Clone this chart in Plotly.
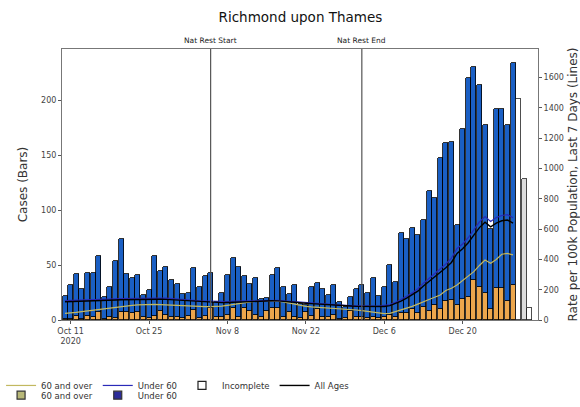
import pandas as pd
import plotly.graph_objects as go

# ---- data -------------------------------------------------------------
start_date = "2020-10-10"
n_complete = 81

total_cases = [22, 32, 42, 28, 43, 43, 58, 21, 30, 54, 74, 42, 38, 41, 23, 27, 58, 45, 48, 36,
               33, 24, 25, 47, 30, 40, 43, 16, 25, 41, 56, 48, 40, 33, 38, 19, 20, 41, 47, 30,
               24, 32, 15, 14, 30, 34, 28, 23, 32, 16, 12, 21, 28, 32, 25, 38, 22, 30, 50, 35,
               79, 74, 84, 77, 91, 117, 111, 147, 161, 162, 86, 174, 220, 230, 214, 177, 83, 192, 192, 177,
               234]
over60_cases = [1, 1, 4, 1, 4, 3, 7, 1, 3, 2, 7, 7, 6, 7, 3, 2, 4, 8, 5, 3,
                3, 2, 4, 9, 2, 4, 11, 3, 3, 5, 11, 3, 11, 8, 5, 3, 8, 11, 11, 3,
                7, 3, 2, 7, 4, 10, 3, 3, 5, 1, 2, 8, 3, 3, 2, 3, 2, 3, 5, 3,
                6, 6, 10, 6, 12, 8, 14, 10, 17, 18, 14, 19, 21, 36, 30, 25, 10, 29, 29, 17,
                32]
under60_cases = [t - o for t, o in zip(total_cases, over60_cases)]
incomplete_cases = [201, 128, 11]

rate_all = [120, 121, 121, 122, 123, 124, 126, 128, 130, 132, 134, 135, 136, 137,
            137, 138, 138, 137, 136, 134, 132, 129, 126, 123, 120, 118, 116,
            115, 115, 116, 118, 120, 122, 124, 125, 126, 127, 127, 126, 124, 121,
            118, 114, 111, 108, 105, 102, 100, 98, 96, 94, 92, 90, 89, 88,
            87, 87, 89, 95, 108, 125, 145, 165, 190, 225, 255, 285,
            310, 345, 380, 440, 470, 510, 560, 610, 645, 615, 640, 655, 660, 640]
rate_over60 = [44, 46, 50, 55, 60, 65, 70, 75, 80, 85, 90, 94, 97, 100,
               102, 103, 103, 102, 100, 97, 94, 92, 90, 89, 88, 88, 88,
               89, 92, 97, 103, 110, 116, 121, 125, 127, 128, 127, 125, 120, 112,
               104, 96, 90, 86, 84, 82, 78, 75, 72, 70, 68, 66, 62, 58,
               52, 46, 42, 44, 55, 68, 80, 90, 105, 118, 135, 150,
               165, 195, 210, 231, 260, 290, 319, 360, 396, 374, 400, 434, 440, 430]
rate_under60 = [128, 129, 129, 130, 131, 132, 134, 136, 138, 140, 142, 143, 144, 145,
                145, 146, 146, 145, 144, 142, 140, 137, 134, 130, 127, 125, 123,
                122, 122, 122, 124, 125, 127, 128, 129, 130, 130, 130, 129, 127, 124,
                121, 117, 114, 111, 108, 105, 103, 101, 99, 97, 95, 93, 92, 91,
                91, 92, 95, 102, 116, 135, 157, 179, 206, 243, 274, 306,
                333, 370, 409, 472, 502, 543, 596, 648, 683, 650, 676, 690, 695, 675]

tick_dates = ["2020-10-11", "2020-10-25", "2020-11-08", "2020-11-22", "2020-12-06", "2020-12-20"]
tick_text = ["Oct 11<br>2020", "Oct 25", "Nov 8", "Nov 22", "Dec 6", "Dec 20"]
events = [("2020-11-05", "Nat Rest Start"), ("2020-12-02", "Nat Rest End")]

dates = pd.date_range(start_date, periods=n_complete + len(incomplete_cases), freq="D")
complete_dates = dates[:n_complete]
incomplete_dates = dates[n_complete:]

# ---- styling ----------------------------------------------------------
FONT = "DejaVu Sans"
C_U60 = "#1a5fc4"
C_O60 = "#eca64c"
C_O60_LINE = "#c2b860"
C_U60_LINE = "#2a2ab8"
BAR_W = 0.9 * 86400000

fig = go.Figure()

fig.add_trace(go.Bar(x=complete_dates, y=over60_cases, width=BAR_W, name="60 and over",
                     marker=dict(color=C_O60, line=dict(color="black", width=0.8)),
                     showlegend=False))
fig.add_trace(go.Bar(x=complete_dates, y=under60_cases, width=BAR_W, name="Under 60",
                     marker=dict(color=C_U60, line=dict(color="black", width=0.8)),
                     showlegend=False))
fig.add_trace(go.Bar(x=incomplete_dates, y=incomplete_cases, width=BAR_W, name="Incomplete",
                     marker=dict(color=["white", "#dcdcdc", "white"],
                                 line=dict(color="#222222", width=0.8)),
                     showlegend=False))

# lines on secondary axis
fig.add_trace(go.Scatter(x=complete_dates, y=rate_over60, yaxis="y2", mode="lines",
                         name="60 and over", line=dict(color=C_O60_LINE, width=1.2),
                         legend="legend"))
fig.add_trace(go.Scatter(x=complete_dates, y=rate_under60, yaxis="y2", mode="lines",
                         name="Under 60", line=dict(color=C_U60_LINE, width=1.2),
                         legend="legend"))
fig.add_trace(go.Scatter(x=[None], y=[None], mode="markers", name="Incomplete",
                         marker=dict(symbol="square", size=8, color="white",
                                     line=dict(color="#222222", width=1.2)),
                         legend="legend"))
fig.add_trace(go.Scatter(x=complete_dates, y=rate_all, yaxis="y2", mode="lines",
                         name="All Ages", line=dict(color="black", width=1.4),
                         legend="legend"))
# second legend row (bar keys)
fig.add_trace(go.Scatter(x=[None], y=[None], mode="markers", name="60 and over",
                         marker=dict(symbol="square", size=8, color="#b8b878",
                                     line=dict(color="#333333", width=1.2)),
                         legend="legend2"))
fig.add_trace(go.Scatter(x=[None], y=[None], mode="markers", name="Under 60",
                         marker=dict(symbol="square", size=8, color="#2c2c9a",
                                     line=dict(color="#333333", width=1.2)),
                         legend="legend2"))

for d, label in events:
    fig.add_shape(type="line", x0=d, x1=d, xref="x", y0=0, y1=1, yref="paper",
                  line=dict(color="#555555", width=1.2), layer="above")
    fig.add_annotation(x=d, xref="x", y=1, yref="paper", yanchor="bottom", yshift=2,
                       text=label, showarrow=False, font=dict(size=7.5, color="#222222"))

fig.update_layout(
    width=580, height=407,
    margin=dict(l=62, r=42, t=49, b=87, autoexpand=False),
    paper_bgcolor="white", plot_bgcolor="white",
    font=dict(family=FONT, size=8, color="#333333"),
    title=dict(text="Richmond upon Thames", x=0.518, xanchor="center", y=0.958, yanchor="middle",
               font=dict(size=13.5, color="#111111", family=FONT)),
    barmode="stack", bargap=0,
    xaxis=dict(type="date", range=["2020-10-09 11:00", "2021-01-02 11:00"],
               tickvals=tick_dates, ticktext=tick_text, ticks="outside", ticklen=3,
               tickcolor="#555555", showgrid=False, zeroline=False, automargin=False,
               showline=True, linecolor="#777777", linewidth=1, mirror=True,
               tickfont=dict(size=8, color="#444444")),
    yaxis=dict(range=[0, 246.4], tickvals=[0, 50, 100, 150, 200], ticks="outside", ticklen=3,
               tickcolor="#555555", showgrid=False, zeroline=False, automargin=False,
               showline=True, linecolor="#777777", linewidth=1, mirror=True,
               tickfont=dict(size=8, color="#444444"),
               title=dict(text="Cases (Bars)", font=dict(size=12, color="#333333"), standoff=10)),
    yaxis2=dict(range=[0, 1789], overlaying="y", side="right", automargin=False,
                tickvals=[0, 200, 400, 600, 800, 1000, 1200, 1400, 1600],
                ticks="outside", ticklen=3, tickcolor="#555555", showgrid=False, zeroline=False,
                showline=True, linecolor="#777777", linewidth=1,
                tickfont=dict(size=8, color="#444444"),
                title=dict(text="Rate per 100k Population, Last 7 Days (Lines)",
                           font=dict(size=12, color="#333333"), standoff=13)),
    legend=dict(orientation="h", x=-0.128, xanchor="left", y=-0.188, yanchor="top",
                font=dict(size=8.5, color="#333333"), bgcolor="rgba(0,0,0,0)",
                itemwidth=30, tracegroupgap=0, traceorder="normal"),
    legend2=dict(orientation="h", x=-0.128, xanchor="left", y=-0.224, yanchor="top",
                 font=dict(size=8.5, color="#333333"), bgcolor="rgba(0,0,0,0)",
                 itemwidth=30, traceorder="normal"),
)

fig.write_html("out.html", config={"displayModeBar": False},
               post_script="document.body.style.margin='0';document.body.style.padding='0';")
